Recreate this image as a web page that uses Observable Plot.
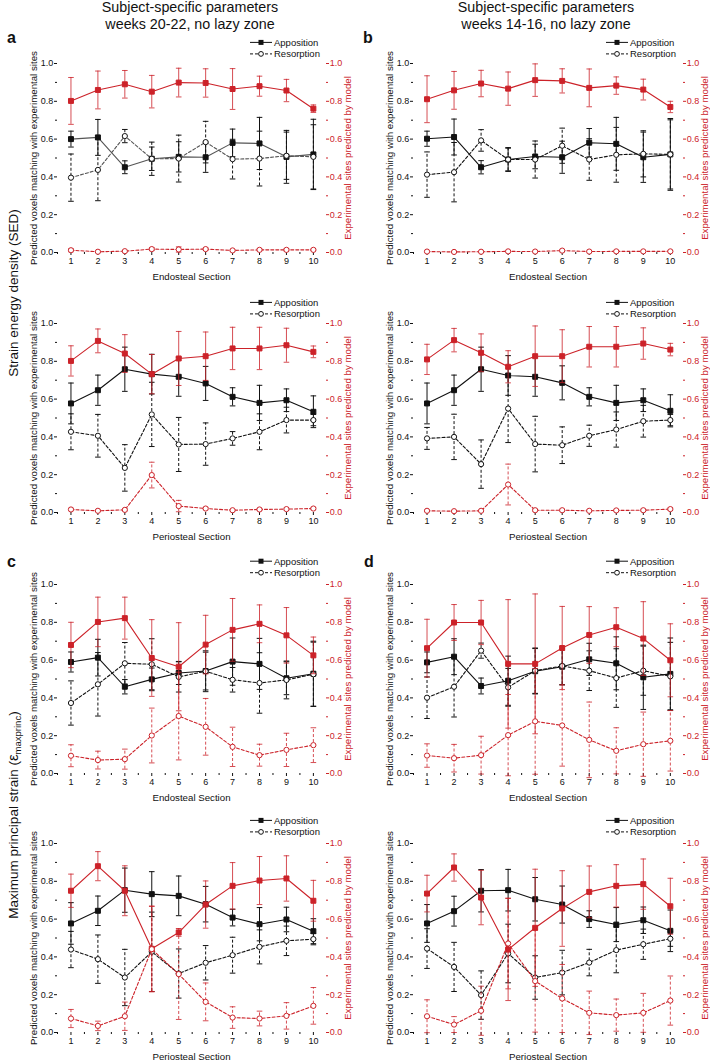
<!DOCTYPE html>
<html><head><meta charset="utf-8">
<script src="https://cdn.jsdelivr.net/npm/d3@7"></script>
<script src="https://cdn.jsdelivr.net/npm/@observablehq/plot@0.6"></script>
<style>
html,body{margin:0;padding:0;background:#fff;}
#page{position:relative;width:710px;height:1062px;overflow:hidden;background:#fff;}
</style></head>
<body><div id="page"></div>
<script>
// ---------- DATA ----------
const sections = [1, 2, 3, 4, 5, 6, 7, 8, 9, 10];
const yMajorTicks = [0, 0.2, 0.4, 0.6, 0.8, 1.0];
const yMinorTicks = [0.1, 0.3, 0.5, 0.7, 0.9];
const xMinorTicks = [0.5, 1.5, 2.5, 3.5, 4.5, 5.5, 6.5, 7.5, 8.5, 9.5];
const colTitles = [["Subject-specific parameters", "weeks 20-22, no lazy zone"],
                   ["Subject-specific parameters", "weeks 14-16, no lazy zone"]];
const panelLetters = ["a", "b", "c", "d"];
const rowLabel1 = "Strain energy density (SED)";
const rowLabel2 = ["Maximum principal strain (", "ε", "maxprinc", ")"];
const legendLabels = ["Apposition", "Resorption"];
const leftAxisLabel = "Predicted voxels matching with experimental sites";
const rightAxisLabel = "Experimental sites predicted by model";
const xLabels = ["Endosteal Section", "Periosteal Section"];

// a: SED, weeks 20-22, endosteal
const aEndoApp = [0.600, 0.609, 0.451, 0.496, 0.506, 0.504, 0.580, 0.577, 0.506, 0.519];
const aEndoAppSd = [0.042, 0.095, 0.034, 0.062, 0.080, 0.080, 0.073, 0.138, 0.140, 0.186];
const aEndoRes = [0.396, 0.437, 0.616, 0.496, 0.497, 0.584, 0.494, 0.497, 0.512, 0.506];
const aEndoResSd = [0.125, 0.163, 0.035, 0.088, 0.124, 0.110, 0.105, 0.145, 0.125, 0.170];
const aEndoAppPred = [0.802, 0.860, 0.890, 0.851, 0.899, 0.897, 0.865, 0.880, 0.857, 0.761];
const aEndoAppPredSd = [0.124, 0.100, 0.073, 0.086, 0.076, 0.075, 0.108, 0.053, 0.059, 0.020];
const aEndoResPred = [0.012, 0.004, 0.007, 0.018, 0.016, 0.018, 0.011, 0.014, 0.014, 0.014];
const aEndoResPredSd = [0.008, 0.003, 0.004, 0.008, 0.014, 0.006, 0.004, 0.005, 0.006, 0.004];
// a: SED, weeks 20-22, periosteal
const aPeriApp = [0.577, 0.647, 0.758, 0.732, 0.718, 0.683, 0.612, 0.580, 0.594, 0.533];
const aPeriAppSd = [0.108, 0.080, 0.117, 0.105, 0.103, 0.090, 0.048, 0.093, 0.060, 0.084];
const aPeriRes = [0.427, 0.406, 0.236, 0.519, 0.360, 0.362, 0.392, 0.427, 0.489, 0.489];
const aPeriResSd = [0.095, 0.113, 0.123, 0.170, 0.143, 0.112, 0.036, 0.095, 0.068, 0.030];
const aPeriAppPred = [0.802, 0.908, 0.841, 0.732, 0.815, 0.827, 0.868, 0.868, 0.885, 0.850];
const aPeriAppPredSd = [0.080, 0.063, 0.100, 0.104, 0.143, 0.128, 0.112, 0.112, 0.090, 0.031];
const aPeriResPred = [0.016, 0.009, 0.014, 0.198, 0.034, 0.021, 0.012, 0.016, 0.018, 0.021];
const aPeriResPredSd = [0.006, 0.004, 0.005, 0.068, 0.030, 0.006, 0.004, 0.005, 0.005, 0.006];
// b: SED, weeks 14-16, endosteal
const bEndoApp = [0.602, 0.611, 0.451, 0.492, 0.508, 0.504, 0.581, 0.575, 0.504, 0.519];
const bEndoAppSd = [0.040, 0.095, 0.035, 0.063, 0.065, 0.085, 0.075, 0.140, 0.133, 0.190];
const bEndoRes = [0.412, 0.425, 0.593, 0.492, 0.492, 0.565, 0.492, 0.517, 0.522, 0.519];
const bEndoResSd = [0.120, 0.157, 0.057, 0.060, 0.098, 0.093, 0.110, 0.145, 0.122, 0.183];
const bEndoAppPred = [0.811, 0.858, 0.894, 0.867, 0.912, 0.908, 0.871, 0.883, 0.862, 0.770];
const bEndoAppPredSd = [0.124, 0.100, 0.070, 0.088, 0.086, 0.064, 0.100, 0.046, 0.055, 0.030];
const bEndoResPred = [0.005, 0.003, 0.004, 0.006, 0.005, 0.010, 0.005, 0.006, 0.006, 0.006];
const bEndoResPredSd = [0.003, 0.002, 0.003, 0.003, 0.003, 0.006, 0.003, 0.003, 0.003, 0.003];
// b: SED, weeks 14-16, periosteal
const bPeriApp = [0.577, 0.647, 0.758, 0.725, 0.718, 0.686, 0.612, 0.580, 0.594, 0.538];
const bPeriAppSd = [0.108, 0.080, 0.117, 0.105, 0.103, 0.090, 0.048, 0.093, 0.060, 0.085];
const bPeriRes = [0.392, 0.400, 0.256, 0.550, 0.362, 0.356, 0.406, 0.439, 0.483, 0.489];
const bPeriResSd = [0.058, 0.120, 0.128, 0.180, 0.147, 0.097, 0.056, 0.093, 0.084, 0.030];
const bPeriAppPred = [0.810, 0.912, 0.845, 0.771, 0.827, 0.827, 0.877, 0.877, 0.894, 0.862];
const bPeriAppPredSd = [0.080, 0.062, 0.100, 0.085, 0.160, 0.140, 0.107, 0.107, 0.083, 0.033];
const bPeriResPred = [0.009, 0.007, 0.009, 0.148, 0.012, 0.012, 0.009, 0.011, 0.012, 0.018];
const bPeriResPredSd = [0.004, 0.003, 0.004, 0.108, 0.005, 0.005, 0.004, 0.004, 0.005, 0.006];
// c: max principal strain, weeks 20-22, endosteal
const cEndoApp = [0.590, 0.613, 0.459, 0.498, 0.532, 0.542, 0.592, 0.580, 0.504, 0.528];
const cEndoAppSd = [0.053, 0.097, 0.038, 0.060, 0.061, 0.100, 0.125, 0.135, 0.087, 0.172];
const cEndoRes = [0.373, 0.472, 0.583, 0.578, 0.511, 0.541, 0.496, 0.479, 0.495, 0.525];
const cEndoResSd = [0.117, 0.168, 0.110, 0.135, 0.080, 0.108, 0.065, 0.160, 0.100, 0.170];
const cEndoAppPred = [0.680, 0.802, 0.822, 0.611, 0.565, 0.682, 0.760, 0.792, 0.731, 0.625];
const cEndoAppPredSd = [0.120, 0.131, 0.111, 0.203, 0.233, 0.155, 0.166, 0.100, 0.147, 0.097];
const cEndoResPred = [0.094, 0.071, 0.076, 0.201, 0.304, 0.247, 0.141, 0.097, 0.125, 0.150];
const cEndoResPredSd = [0.058, 0.047, 0.053, 0.145, 0.232, 0.150, 0.104, 0.058, 0.088, 0.092];
// c: max principal strain, weeks 20-22, periosteal
const cPeriApp = [0.577, 0.644, 0.753, 0.732, 0.723, 0.679, 0.608, 0.573, 0.598, 0.536];
const cPeriAppSd = [0.110, 0.078, 0.117, 0.119, 0.105, 0.094, 0.044, 0.088, 0.065, 0.066];
const cPeriRes = [0.439, 0.388, 0.291, 0.427, 0.312, 0.369, 0.409, 0.453, 0.485, 0.494];
const cPeriResSd = [0.096, 0.128, 0.149, 0.210, 0.130, 0.091, 0.095, 0.090, 0.078, 0.030];
const cPeriAppPred = [0.750, 0.880, 0.750, 0.443, 0.529, 0.677, 0.776, 0.804, 0.815, 0.697];
const cPeriAppPredSd = [0.088, 0.077, 0.132, 0.226, 0.020, 0.125, 0.123, 0.127, 0.120, 0.108];
const cPeriResPred = [0.074, 0.035, 0.086, 0.441, 0.309, 0.162, 0.079, 0.074, 0.088, 0.141];
const cPeriResPredSd = [0.048, 0.025, 0.075, 0.226, 0.240, 0.100, 0.057, 0.039, 0.070, 0.097];
// d: max principal strain, weeks 14-16, endosteal
const dEndoApp = [0.588, 0.618, 0.463, 0.491, 0.541, 0.565, 0.604, 0.583, 0.509, 0.527];
const dEndoAppSd = [0.055, 0.095, 0.042, 0.130, 0.120, 0.095, 0.085, 0.140, 0.170, 0.190];
const dEndoRes = [0.401, 0.459, 0.650, 0.456, 0.544, 0.569, 0.544, 0.505, 0.544, 0.514];
const dEndoResSd = [0.110, 0.160, 0.040, 0.100, 0.120, 0.100, 0.105, 0.155, 0.130, 0.180];
const dEndoAppPred = [0.663, 0.799, 0.799, 0.580, 0.580, 0.664, 0.733, 0.774, 0.714, 0.599];
const dEndoAppPredSd = [0.153, 0.095, 0.117, 0.340, 0.370, 0.220, 0.150, 0.103, 0.195, 0.193];
const dEndoResPred = [0.095, 0.081, 0.097, 0.203, 0.276, 0.254, 0.178, 0.120, 0.155, 0.173];
const dEndoResPredSd = [0.062, 0.073, 0.100, 0.215, 0.280, 0.215, 0.200, 0.122, 0.170, 0.160];
// d: max principal strain, weeks 14-16, periosteal
const dPeriApp = [0.577, 0.642, 0.750, 0.753, 0.705, 0.677, 0.600, 0.571, 0.594, 0.538];
const dPeriAppSd = [0.100, 0.079, 0.112, 0.110, 0.115, 0.098, 0.044, 0.090, 0.070, 0.110];
const dPeriRes = [0.444, 0.347, 0.198, 0.418, 0.291, 0.317, 0.370, 0.436, 0.467, 0.496];
const dPeriResSd = [0.105, 0.130, 0.128, 0.155, 0.115, 0.118, 0.070, 0.120, 0.080, 0.040];
const dPeriAppPred = [0.735, 0.873, 0.714, 0.439, 0.554, 0.656, 0.744, 0.776, 0.785, 0.668];
const dPeriAppPredSd = [0.097, 0.072, 0.144, 0.270, 0.310, 0.200, 0.137, 0.112, 0.133, 0.148];
const dPeriResPred = [0.086, 0.042, 0.115, 0.471, 0.272, 0.180, 0.104, 0.092, 0.104, 0.169];
const dPeriResPredSd = [0.087, 0.042, 0.130, 0.240, 0.270, 0.180, 0.115, 0.085, 0.103, 0.130];

// ---------- LAYOUT / STYLE ----------
const FONT = "'Liberation Sans', Arial, Helvetica, sans-serif";
const RED = "#cc2229";
const INK = "#111";
const W = 355, MT = 30, PH = 189, MB = 45;
const LABEL_FS = 9.7, TICK_FS = 9;
const colLayout = [{left: 0, ml: 57, mr: 30}, {left: 355, ml: 58, mr: 28}];
const rowPlotTop = [63.3, 323.3, 584, 843.3];
const rowLegendY = [9.4, 9.4, 7.2, 7.4];

const panels = [
  {col: 0, row: 0, x: 0, d: [aEndoApp, aEndoAppSd, aEndoRes, aEndoResSd, aEndoAppPred, aEndoAppPredSd, aEndoResPred, aEndoResPredSd], ink: "#555"},
  {col: 1, row: 0, x: 0, d: [bEndoApp, bEndoAppSd, bEndoRes, bEndoResSd, bEndoAppPred, bEndoAppPredSd, bEndoResPred, bEndoResPredSd], ink: INK},
  {col: 0, row: 1, x: 1, d: [aPeriApp, aPeriAppSd, aPeriRes, aPeriResSd, aPeriAppPred, aPeriAppPredSd, aPeriResPred, aPeriResPredSd], ink: INK},
  {col: 1, row: 1, x: 1, d: [bPeriApp, bPeriAppSd, bPeriRes, bPeriResSd, bPeriAppPred, bPeriAppPredSd, bPeriResPred, bPeriResPredSd], ink: INK},
  {col: 0, row: 2, x: 0, d: [cEndoApp, cEndoAppSd, cEndoRes, cEndoResSd, cEndoAppPred, cEndoAppPredSd, cEndoResPred, cEndoResPredSd], ink: INK},
  {col: 1, row: 2, x: 0, d: [dEndoApp, dEndoAppSd, dEndoRes, dEndoResSd, dEndoAppPred, dEndoAppPredSd, dEndoResPred, dEndoResPredSd], ink: INK},
  {col: 0, row: 3, x: 1, d: [cPeriApp, cPeriAppSd, cPeriRes, cPeriResSd, cPeriAppPred, cPeriAppPredSd, cPeriResPred, cPeriResPredSd], ink: INK},
  {col: 1, row: 3, x: 1, d: [dPeriApp, dPeriAppSd, dPeriRes, dPeriResSd, dPeriAppPred, dPeriAppPredSd, dPeriResPred, dPeriResPredSd], ink: INK}
];

const hline = {draw(ctx, size) { const r = Math.sqrt(size / Math.PI); ctx.moveTo(-r, 0); ctx.lineTo(r, 0); }};

function seriesMarks(rows, v, sd, color, lineColor, dashed, filled, errOpacity) {
  const dash = dashed ? {strokeDasharray: "3,2"} : {};
  return [
    Plot.ruleX(rows, {x: "x", y1: d => d[v] - d[sd], y2: d => d[v] + d[sd], stroke: color, strokeWidth: 1, strokeOpacity: errOpacity, ...dash}),
    Plot.dot(rows, {x: "x", y: d => d[v] - d[sd], symbol: hline, r: 2.8, fill: "none", stroke: color, strokeWidth: 1, strokeOpacity: errOpacity}),
    Plot.dot(rows, {x: "x", y: d => d[v] + d[sd], symbol: hline, r: 2.8, fill: "none", stroke: color, strokeWidth: 1, strokeOpacity: errOpacity}),
    Plot.line(rows, {x: "x", y: v, stroke: lineColor, strokeWidth: 1.1, ...dash}),
    Plot.dot(rows, {x: "x", y: v, symbol: filled ? "square" : "circle", r: filled ? 2.8 : 2.6,
      fill: filled ? color : "white", stroke: color, strokeWidth: 1})
  ];
}

const page = document.getElementById("page");

panels.forEach(p => {
  const cl = colLayout[p.col];
  const rows = sections.map((s, i) => ({
    x: s, app: p.d[0][i], appSd: p.d[1][i], res: p.d[2][i], resSd: p.d[3][i],
    aPred: p.d[4][i], aPredSd: p.d[5][i], rPred: p.d[6][i], rPredSd: p.d[7][i]
  }));
  const svg = Plot.plot({
    width: W, height: MT + PH + MB,
    marginLeft: cl.ml, marginRight: cl.mr, marginTop: MT, marginBottom: MB,
    style: {background: "transparent", overflow: "visible", fontFamily: FONT, fontSize: "9px", color: INK},
    x: {domain: [0.5, 10.45]},
    y: {domain: [0, 1]},
    marks: [
      // x axis
      Plot.axisX({ticks: xMinorTicks, tickSize: 2, tickFormat: () => "", label: null, color: INK}),
      Plot.axisX({ticks: sections, tickSize: 3, tickPadding: 2, fontSize: TICK_FS, line: true, color: INK, label: null}),
      Plot.axisX({ticks: [], tickSize: 0, fontSize: LABEL_FS, color: INK,
        label: xLabels[p.x], labelAnchor: "center", labelOffset: 27.5, labelArrow: "none"}),
      // left y axis
      Plot.axisY({ticks: yMinorTicks, tickSize: 2, tickFormat: () => "", label: null, color: INK}),
      Plot.axisY({ticks: yMajorTicks, tickSize: 3, tickPadding: 1.2, tickFormat: d3.format(".1f"), fontSize: TICK_FS,
        line: true, color: INK, label: null}),
      Plot.axisY({ticks: [], tickSize: 0, fontSize: LABEL_FS, color: INK,
        label: leftAxisLabel, labelAnchor: "center", labelOffset: 27.5, labelArrow: "none"}),
      // right y axis
      Plot.axisY({anchor: "right", ticks: yMinorTicks, tickSize: 2, tickFormat: () => "", label: null, color: RED}),
      Plot.axisY({anchor: "right", ticks: yMajorTicks, tickSize: 3, tickPadding: 1.2, tickFormat: d3.format(".1f"), fontSize: TICK_FS,
        line: true, color: RED, label: null}),
      Plot.axisY({anchor: "right", ticks: [], tickSize: 0, fontSize: LABEL_FS, color: RED,
        label: rightAxisLabel, labelAnchor: "center", labelOffset: 25.5, labelArrow: "none"}),
      // matching (left axis)
      ...seriesMarks(rows, "app", "appSd", INK, p.ink, false, true, 1),
      ...seriesMarks(rows, "res", "resSd", INK, p.ink, true, false, 1),
      // predicted (right axis)
      ...seriesMarks(rows, "aPred", "aPredSd", RED, RED, false, true, 0.8),
      ...seriesMarks(rows, "rPred", "rPredSd", RED, RED, true, false, 0.8)
    ]
  });
  svg.style.position = "absolute";
  svg.style.left = cl.left + "px";
  svg.style.top = (rowPlotTop[p.row] - MT) + "px";
  // legend
  const g = d3.select(svg).append("g")
    .attr("transform", `translate(${cl.ml + 193},${rowLegendY[p.row]})`)
    .attr("font-family", FONT).attr("font-size", 9.5).attr("fill", INK).attr("text-anchor", "start");
  g.append("line").attr("x1", 0).attr("x2", 22).attr("y1", 0).attr("y2", 0).attr("stroke", INK);
  g.append("rect").attr("x", 8.5).attr("y", -2.5).attr("width", 5).attr("height", 5).attr("fill", INK);
  g.append("text").attr("x", 24).attr("y", 0).attr("dy", "0.35em").text(legendLabels[0]);
  g.append("line").attr("x1", 0).attr("x2", 22).attr("y1", 11.5).attr("y2", 11.5).attr("stroke", INK).attr("stroke-dasharray", "3,2");
  g.append("circle").attr("cx", 11).attr("cy", 11.5).attr("r", 2.4).attr("fill", "white").attr("stroke", INK);
  g.append("text").attr("x", 24).attr("y", 11.5).attr("dy", "0.35em").text(legendLabels[1]);
  page.appendChild(svg);
});

// overlay: titles, letters, row labels
const over = d3.select(page).append("svg")
  .attr("width", 710).attr("height", 1062)
  .style("position", "absolute").style("left", "0px").style("top", "0px")
  .style("pointer-events", "none")
  .attr("font-family", FONT).attr("fill", INK);

const titleX = [190, 546];
colTitles.forEach((lines, i) => {
  const t = over.append("text").attr("text-anchor", "middle").attr("font-size", 14.3);
  lines.forEach((line, j) => t.append("tspan").attr("x", titleX[i]).attr("y", 12.3 + 17 * j).text(line));
});

const letterPos = [[7, 43.3], [363, 43.3], [7, 566.7], [364, 566.7]];
panelLetters.forEach((l, i) => {
  over.append("text").attr("x", letterPos[i][0]).attr("y", letterPos[i][1])
    .attr("font-size", 16).attr("font-weight", "bold").text(l);
});

over.append("text").attr("transform", "translate(17.5,293) rotate(-90)")
  .attr("text-anchor", "middle").attr("font-size", 13.5).text(rowLabel1);

const r2 = over.append("text").attr("transform", "translate(17.5,815) rotate(-90)")
  .attr("text-anchor", "middle").attr("font-size", 13.5);
r2.append("tspan").text(rowLabel2[0]);
r2.append("tspan").attr("font-size", 15).text(rowLabel2[1]);
r2.append("tspan").attr("font-size", 9.5).attr("dy", 3).text(rowLabel2[2]);
r2.append("tspan").attr("dy", -3).text(rowLabel2[3]);
</script>
</body></html>
